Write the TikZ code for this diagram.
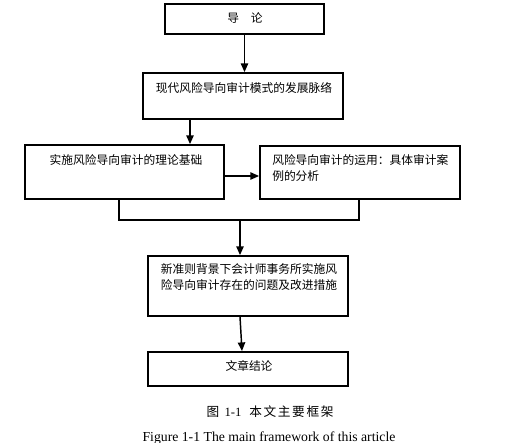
\documentclass[tikz,border=0pt]{standalone}
\usepackage{fontspec}
\setmainfont{Liberation Serif}
\newfontfamily\cjk{Noto Sans CJK SC}
\usetikzlibrary{arrows.meta,fit,calc}
\tikzset{
    box/.style={
        ,   draw
        ,   line width=1.4pt
        ,   inner sep=0pt
    },
    boxText/.style={
        ,   font={\cjk\fontsize{8.8pt}{11.6pt}\selectfont}
        ,   inner sep=0pt
    },
    flow/.style={
        ,   line width=1.1pt
        ,   -{Triangle[length=6.5pt,width=5.5pt]}
    },
}

\begin{document}
\begin{tikzpicture}[x=0.75pt, y=-0.75pt]
\useasboundingbox (0,0) rectangle (526,443);
% boxes, corners in pixels
\node[box, fit={(165,4) (324,34)}] (B1) {};
\node[box, fit={(143,73) (343,119)}] (B2) {};
\node[box, fit={(25,145) (224,199)}] (B3) {};
\node[box, fit={(260,146) (460,199)}] (B4) {};
\node[box, fit={(148,256) (348,316)}] (B5) {};
\node[box, fit={(148,352) (348,386)}] (B6) {};

% texts
\node[boxText] (T1) at (245,18) {导\hspace{1em}论};
\node[boxText] (T2) at (244,88) {现代风险导向审计模式的发展脉络};
\node[boxText] (T3) at (126,160) {实施风险导向审计的理论基础};
\node[boxText, anchor=west, align=left] (T4) at (272,168) {风险导向审计的运用：具体审计案\\例的分析};
\node[boxText, align=left] (T5) at (249,277) {新准则背景下会计师事务所实施风\\险导向审计存在的问题及改进措施};
\node[boxText] (T6) at (249,366) {文章结论};

% connectors
\coordinate (M23) at (190,0);
\coordinate (M34) at (0,176);
\coordinate (JL) at (119,220);
\coordinate (JR) at (359,220);
\coordinate (J) at (240,220);
\coordinate (K) at (242,0);
\draw[flow] (B1.south) -- (B1.south |- B2.north);
\draw[flow] (B2.south -| M23) -- (B3.north -| M23);
\draw[flow] (B3.east |- M34) -- (B4.west |- M34);
\draw[line width=1.1pt] (B3.south -| JL) -- (JL) -- (JR) -- (B4.south -| JR); % join both boxes
\draw[flow] (J) -- (B5.north -| J);
\draw[flow] (B5.south -| J) -- (B6.north -| K);

% caption
\node[font={\fontsize{9.5pt}{11pt}\selectfont}] (C1) at (270,412) {{\cjk 图}\hspace{4pt}1-1\hspace{6pt}{\cjk 本\hspace{1.2pt}文\hspace{1.2pt}主\hspace{1.2pt}要\hspace{1.2pt}框\hspace{1.2pt}架}};
\node[font={\fontsize{10.3pt}{12pt}\selectfont}] (C2) at (269,438) {Figure 1-1 The main framework of this article};
\end{tikzpicture}
\end{document}
